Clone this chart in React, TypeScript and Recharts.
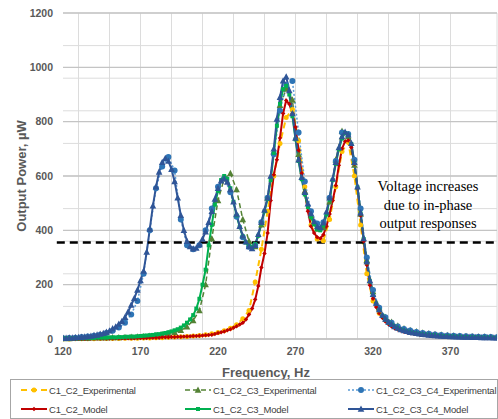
import React from 'react';
import { LineChart, Line, XAxis, YAxis, CartesianGrid, ReferenceLine } from 'recharts';

// frequency grid of the model curves (Hz)
const F_MODEL = [
    120, 122, 124, 126, 128, 130, 132, 134, 136, 138,
    140, 142, 144, 146, 148, 150, 152, 154, 156, 158,
    160, 162, 164, 166, 168, 170, 172, 174, 176, 178,
    180, 182, 184, 186, 188, 190, 192, 194, 196, 198,
    200, 202, 204, 206, 208, 210, 212, 214, 216, 218,
    220, 222, 224, 226, 228, 230, 232, 234, 236, 238,
    240, 242, 244, 246, 248, 250, 252, 254, 256, 258,
    260, 262, 264, 266, 268, 270, 272, 274, 276, 278,
    280, 282, 284, 286, 288, 290, 292, 294, 296, 298,
    300, 302, 304, 306, 308, 310, 312, 314, 316, 318,
    320, 322, 324, 326, 328, 330, 332, 334, 336, 338,
    340, 342, 344, 346, 348, 350, 352, 354, 356, 358,
    360, 362, 364, 366, 368, 370, 372, 374, 376, 378,
    380, 382, 384, 386, 388, 390, 392, 394, 396, 398,
    400
];

// output power (µW)
const C1_C2_MODEL = [
    1, 1, 1, 1, 1, 1, 1, 1, 2, 2,
    2, 2, 2, 2, 2, 2, 2, 3, 3, 3,
    3, 3, 3, 3, 4, 4, 4, 4, 5, 5,
    5, 5, 6, 6, 6, 7, 7, 8, 8, 9,
    9, 10, 11, 11, 12, 13, 14, 15, 16, 18,
    22, 25, 28, 32, 36, 41, 47, 53, 60, 72,
    90, 112, 145, 195, 263, 315, 390, 510, 605, 660,
    740, 830, 878, 865, 830, 780, 695, 610, 540, 470,
    415, 390, 375, 370, 384, 415, 460, 510, 565, 640,
    700, 728, 731, 705, 645, 555, 455, 360, 272, 198,
    148, 118, 95, 78, 64, 54, 46, 40, 35, 31,
    27, 24, 22, 20, 18, 17, 16, 15, 14, 13,
    12, 11, 10, 9, 9, 8, 8, 7, 7, 6,
    6, 6, 5, 5, 5, 5, 4, 4, 4, 4,
    4
];

const C1_C2_C3_MODEL = [
    2, 2, 2, 3, 3, 3, 3, 4, 4, 4,
    4, 5, 5, 5, 5, 6, 6, 6, 7, 7,
    8, 8, 9, 9, 10, 11, 12, 13, 14, 15,
    17, 18, 20, 22, 25, 28, 32, 36, 42, 50,
    60, 72, 88, 112, 148, 200, 255, 345, 420, 495,
    545, 585, 600, 590, 555, 505, 455, 412, 378, 355,
    342, 338, 350, 380, 425, 470, 515, 585, 685, 785,
    865, 920, 932, 900, 820, 735, 655, 588, 532, 486,
    448, 422, 404, 400, 418, 458, 512, 585, 645, 698,
    738, 758, 750, 718, 648, 558, 462, 368, 282, 212,
    162, 130, 106, 86, 71, 60, 52, 45, 39, 34,
    30, 27, 24, 22, 20, 18, 17, 16, 15, 14,
    13, 12, 11, 10, 10, 9, 9, 8, 8, 7,
    7, 7, 6, 6, 6, 5, 5, 5, 5, 4,
    4
];

const C1_C2_C3_C4_MODEL = [
    3, 3, 4, 4, 5, 6, 7, 8, 9, 11,
    13, 15, 18, 21, 25, 30, 38, 45, 55, 65,
    80, 100, 125, 150, 180, 215, 250, 320, 405, 490,
    560, 615, 650, 665, 655, 625, 580, 520, 455, 400,
    360, 340, 332, 335, 348, 368, 395, 430, 470, 515,
    555, 582, 590, 578, 550, 505, 460, 415, 380, 358,
    340, 333, 345, 385, 430, 475, 520, 600, 700, 810,
    890, 950, 965, 915, 830, 740, 660, 595, 540, 498,
    462, 432, 414, 410, 428, 468, 520, 590, 650, 705,
    745, 762, 752, 720, 650, 560, 465, 370, 285, 215,
    165, 132, 108, 88, 73, 62, 54, 46, 40, 35,
    31, 28, 25, 23, 21, 19, 17, 16, 15, 14,
    13, 12, 11, 10, 10, 9, 9, 8, 8, 7,
    7, 7, 6, 6, 6, 5, 5, 5, 5, 4,
    4
];

// frequency grid of the measurements (Hz)
const F_EXP = [
    120, 124, 128, 132, 136, 140, 144, 148, 152, 156,
    160, 164, 168, 172, 176, 180, 184, 188, 192, 196,
    200, 204, 208, 212, 216, 220, 224, 228, 232, 236,
    240, 244, 248, 252, 256, 260, 264, 268, 272, 276,
    280, 284, 288, 292, 296, 300, 304, 308, 312, 316,
    320, 324, 328, 332, 336, 340, 344, 348, 352, 356,
    360, 364, 368, 372, 376, 380, 384, 388, 392, 396,
    400
];

const C1_C2_EXP = [
    0, 0, 1, 1, 1, 1, 2, 2, 2, 2,
    3, 3, 3, 4, 4, 5, 5, 6, 7, 8,
    9, 11, 13, 16, 19, 24, 30, 40, 52, 75,
    105, 210, 330, 470, 600, 720, 815, 845, 730, 560,
    420, 368, 362, 440, 560, 690, 725, 600, 420, 240,
    140, 95, 70, 55, 44, 36, 30, 25, 21, 18,
    16, 14, 12, 11, 10, 9, 8, 7, 7, 6,
    5
];

const C1_C2_C3_EXP = [
    2, 2, 3, 3, 3, 4, 4, 4, 5, 5,
    6, 7, 8, 9, 11, 13, 16, 20, 25, 32,
    45, 68, 105, 200, 370, 510, 590, 610, 550, 440,
    360, 340, 420, 520, 690, 860, 920, 880, 680, 545,
    455, 405, 410, 505, 660, 765, 745, 640, 460, 290,
    175, 115, 80, 62, 48, 38, 32, 27, 23, 20,
    17, 15, 13, 12, 11, 10, 9, 8, 8, 7,
    6
];

const C1_C2_C3_C4_EXP = [
    3, 4, 5, 7, 9, 12, 16, 22, 30, 42,
    60, 90, 140, 240, 400, 555, 635, 670, 620, 440,
    345, 330, 345, 400, 480, 560, 592, 540, 450, 375,
    340, 345, 430, 520, 680, 840, 935, 950, 760, 580,
    470, 425, 430, 520, 655, 760, 755, 660, 480, 300,
    180, 115, 80, 60, 46, 37, 31, 26, 22, 19,
    17, 15, 13, 12, 11, 10, 9, 8, 8, 7,
    6
];

const X_TICKS = [120, 170, 220, 270, 320, 370];
const Y_TICKS = [0, 200, 400, 600, 800, 1000, 1200];
const THRESHOLD = 355;
const NOTE = ['Voltage increases', 'due to in-phase', 'output responses'];

const X_MINOR = Array.from({ length: 29 }, (_, i) => 120 + i * 10);
const Y_MINOR = Array.from({ length: 31 }, (_, i) => i * 40);

const toPoints = (f: number[], p: number[]) => f.map((x, i) => ({ f: x, p: p[i] }));

const AXIS_GRAY = '#595959';
const FONT = '"Liberation Sans", Arial, sans-serif';

type Marker = 'circle' | 'triangle' | 'square' | 'diamond';

function markerPath(kind: Marker, cx: number, cy: number, s: number) {
    if (kind === 'triangle') {
        return `M${cx},${cy - s * 0.6}L${cx + s * 0.55},${cy + s * 0.45}L${cx - s * 0.55},${cy + s * 0.45}Z`;
    }
    if (kind === 'square') {
        return `M${cx - s / 2},${cy - s / 2}h${s}v${s}h${-s}Z`;
    }
    if (kind === 'diamond') {
        return `M${cx},${cy - s / 2}L${cx + s / 2},${cy}L${cx},${cy + s / 2}L${cx - s / 2},${cy}Z`;
    }
    const r = s / 2;
    return `M${cx - r},${cy}a${r},${r} 0 1,0 ${2 * r},0a${r},${r} 0 1,0 ${-2 * r},0`;
}

const makeDot = (kind: Marker, color: string, size: number) => (props: any) => {
    const { cx, cy, index } = props;
    if (cx == null || cy == null) return <g key={index} />;
    return <path key={index} d={markerPath(kind, cx, cy, size)} fill={color} stroke="none" />;
};

const SERIES = [
    { name: 'C1_C2_Experimental', f: F_EXP, p: C1_C2_EXP, color: '#FFC000', dotColor: '#FFC000', dash: '6 4', width: 2, marker: 'circle' as Marker, size: 5 },
    { name: 'C1_C2_C3_Experimental', f: F_EXP, p: C1_C2_C3_EXP, color: '#548235', dotColor: '#548235', dash: '5 3', width: 1.5, marker: 'triangle' as Marker, size: 6 },
    { name: 'C1_C2_C3_C4_Experimental', f: F_EXP, p: C1_C2_C3_C4_EXP, color: '#5B9BD5', dotColor: '#2E75B6', dash: '2 2', width: 1.5, marker: 'circle' as Marker, size: 6 },
    { name: 'C1_C2_Model', f: F_MODEL, p: C1_C2_MODEL, color: '#C00000', dotColor: '#C00000', dash: undefined, width: 2, marker: 'diamond' as Marker, size: 4.5 },
    { name: 'C1_C2_C3_Model', f: F_MODEL, p: C1_C2_C3_MODEL, color: '#00B050', dotColor: '#00B050', dash: undefined, width: 2, marker: 'square' as Marker, size: 4 },
    { name: 'C1_C2_C3_C4_Model', f: F_MODEL, p: C1_C2_C3_C4_MODEL, color: '#2F5597', dotColor: '#2F5597', dash: undefined, width: 2, marker: 'triangle' as Marker, size: 6 }
];

const LEGEND_COLS = [10, 174, 337];

function LegendBox() {
    return (
        <div style={{ position: 'absolute', left: 10, top: 379, width: 486, height: 38, border: '1px solid #A6A6A6', fontFamily: FONT, fontSize: 9.5, letterSpacing: -0.2, color: '#404040' }}>
            {SERIES.map((s, i) => {
                const col = i % 3;
                const row = Math.floor(i / 3);
                return (
                    <div key={s.name} style={{ position: 'absolute', left: LEGEND_COLS[col], top: 2 + row * 19, height: 16, display: 'flex', alignItems: 'center', whiteSpace: 'nowrap' }}>
                        <svg width={26} height={10} style={{ marginRight: 2 }}>
                            <line x1={0} y1={5} x2={26} y2={5} stroke={s.color} strokeWidth={s.width} strokeDasharray={s.dash} />
                            <path d={markerPath(s.marker, 13, 5, s.size)} fill={s.dotColor} />
                        </svg>
                        <span>{s.name}</span>
                    </div>
                );
            })}
        </div>
    );
}

export default function App() {
    return (
        <div style={{ position: 'absolute', left: 0, top: 0, width: 498, height: 419, background: '#fff' }}>
            <LineChart width={498} height={379} margin={{ top: 13, right: 1, left: 0, bottom: 0 }}>
                <CartesianGrid stroke="#DCDCDC" strokeWidth={1} verticalValues={X_MINOR} horizontalValues={Y_MINOR} />
                <CartesianGrid stroke="#C4C4C4" strokeWidth={1.3} vertical={false} horizontalValues={Y_TICKS} />
                <XAxis
                    type="number"
                    dataKey="f"
                    domain={[120, 400]}
                    ticks={X_TICKS}
                    allowDataOverflow
                    height={40}
                    tickLine={false}
                    axisLine={{ stroke: '#BFBFBF' }}
                    tickMargin={3}
                    tick={{ fill: AXIS_GRAY, fontSize: 10.5, fontWeight: 700, fontFamily: FONT }}
                    label={{ value: 'Frequency, Hz', position: 'center', dx: -14, dy: 13, style: { fill: AXIS_GRAY, fontSize: 13, fontWeight: 700, fontFamily: FONT } }}
                />
                <YAxis
                    type="number"
                    domain={[0, 1200]}
                    ticks={Y_TICKS}
                    width={63}
                    tickLine={false}
                    axisLine={false}
                    tickMargin={4}
                    tick={{ fill: AXIS_GRAY, fontSize: 10.5, fontWeight: 700, fontFamily: FONT }}
                    label={{ value: 'Output Power, µW', angle: -90, position: 'center', dx: -10, style: { fill: AXIS_GRAY, fontSize: 13, fontWeight: 700, fontFamily: FONT, textAnchor: 'middle' } }}
                />
                {SERIES.map((s) => (
                    <Line
                        key={s.name}
                        data={toPoints(s.f, s.p)}
                        dataKey="p"
                        name={s.name}
                        type="linear"
                        stroke={s.color}
                        strokeWidth={s.width}
                        strokeDasharray={s.dash}
                        dot={makeDot(s.marker, s.dotColor, s.size)}
                        activeDot={false}
                        isAnimationActive={false}
                    />
                ))}
                <ReferenceLine
                    ifOverflow="visible"
                    segment={[{ x: 116, y: THRESHOLD }, { x: 400, y: THRESHOLD }]}
                    stroke="#000"
                    strokeWidth={2.5}
                    strokeDasharray="8 5"
                />
            </LineChart>
            <div style={{ position: 'absolute', left: 358, top: 177, width: 140, textAlign: 'center', fontFamily: '"Liberation Serif", "Times New Roman", serif', fontSize: 14.5, lineHeight: '18.5px', color: '#000' }}>
                {NOTE.map((t) => <div key={t}>{t}</div>)}
            </div>
            <LegendBox />
        </div>
    );
}
